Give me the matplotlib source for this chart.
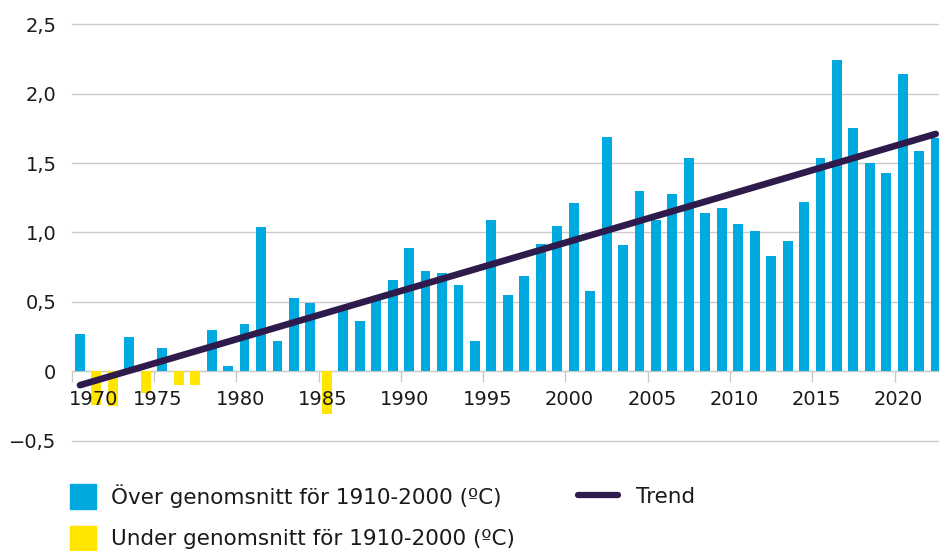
import matplotlib.pyplot as plt
from matplotlib.patches import Patch
from matplotlib.lines import Line2D
from matplotlib.ticker import FuncFormatter, MultipleLocator

plt.rcParams['font.family'] = ['DejaVu Sans']

years = list(range(1970, 2023))
anomaly = [0.27, -0.24, -0.25, 0.25, -0.16, 0.17, -0.10, -0.10, 0.30, 0.04,
           0.34, 1.04, 0.22, 0.53, 0.49, -0.31, 0.45, 0.36, 0.52, 0.66,
           0.89, 0.72, 0.71, 0.62, 0.22, 1.09, 0.55, 0.69, 0.92, 1.05,
           1.21, 0.58, 1.69, 0.91, 1.30, 1.09, 1.28, 1.54, 1.14, 1.18,
           1.06, 1.01, 0.83, 0.94, 1.22, 1.54, 2.24, 1.75, 1.50, 1.43,
           2.14, 1.59, 1.68]

trend_years = [1970, 2022]
trend_values = [-0.10, 1.71]

label_years = list(range(1970, 2021, 5))
label_over = 'Över genomsnitt för 1910-2000 (ºC)'
label_under = 'Under genomsnitt för 1910-2000 (ºC)'
label_trend = 'Trend'

BLUE = '#00a9e0'
YELLOW = '#ffe500'
PURPLE = '#2e1b4b'
GRID = '#c9c9c9'
TEXT = '#1a1a1a'


def fmt_y(v, pos):
    if abs(v) < 1e-9:
        return '0'
    return f'{v:.1f}'.replace('.', ',').replace('-', '\u2212')


fig = plt.figure(figsize=(9.39, 5.51), dpi=100)
ax = fig.add_axes([0.0764, 0.2002, 1 - 0.0764, 0.7557])

colors = [BLUE if v >= 0 else YELLOW for v in anomaly]
ax.bar(years, anomaly, width=0.6, color=colors, zorder=2)
ax.plot(trend_years, trend_values, color=PURPLE, lw=4.8,
        solid_capstyle='round', zorder=4)

ax.set_xlim(1969.5, 2022.2)
ax.set_ylim(-0.5, 2.5)
ax.set_axisbelow(True)
ax.yaxis.set_major_locator(MultipleLocator(0.5))
ax.yaxis.set_major_formatter(FuncFormatter(fmt_y))
ax.grid(axis='y', color=GRID, lw=1)
ax.grid(axis='x', visible=False)
for gl in ax.get_ygridlines():
    gl.set_clip_on(False)

for s in ['top', 'right', 'left']:
    ax.spines[s].set_visible(False)
ax.spines['bottom'].set_position(('data', 0))
ax.spines['bottom'].set_color(GRID)
ax.spines['bottom'].set_zorder(1)

ax.set_xticks([y - 0.5 for y in label_years])
ax.tick_params(axis='x', length=8, width=1, color=GRID, labelbottom=False)
ax.tick_params(axis='y', length=0, pad=11, labelsize=14, labelcolor=TEXT)

for i, y in enumerate(label_years):
    if i == 0:
        ax.text(y - 0.7, -0.205, str(y), ha='left', va='center',
                fontsize=14, color=TEXT, zorder=3)
    else:
        ax.text(y - 0.25, -0.205, str(y), ha='center', va='center',
                fontsize=14, color=TEXT, zorder=3)

bars_leg = fig.legend(
    handles=[Patch(color=BLUE, label=label_over),
             Patch(color=YELLOW, label=label_under)],
    loc='upper left', bbox_to_anchor=(70 / 939, 1 - 484 / 551),
    frameon=False, fontsize=15.5, labelcolor=TEXT, borderpad=0,
    borderaxespad=0, handlelength=1.2, handleheight=1.38,
    handletextpad=0.7, labelspacing=0.8)

trend_leg = fig.legend(
    handles=[Line2D([0], [0], color=PURPLE, lw=4.5,
                    solid_capstyle='round', label=label_trend)],
    loc='upper left', bbox_to_anchor=(578 / 939, 1 - 487 / 551),
    frameon=False, fontsize=15.5, labelcolor=TEXT, borderpad=0,
    borderaxespad=0, handlelength=1.85, handletextpad=0.85)

fig.savefig('out.png', dpi=100)
